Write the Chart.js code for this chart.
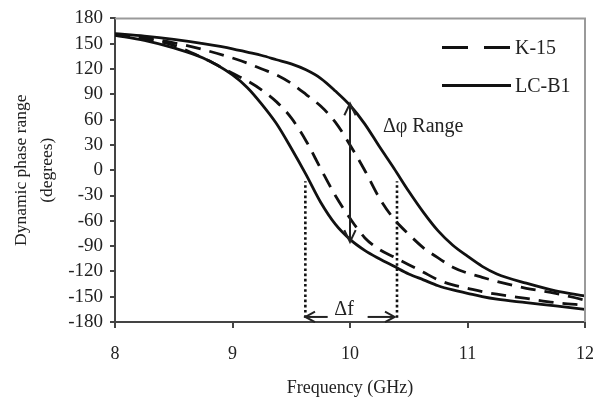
<!DOCTYPE html>
<html><head><meta charset="utf-8">
<script src="https://cdn.jsdelivr.net/npm/chart.js@4.4.1/dist/chart.umd.min.js"></script>
<style>html,body{margin:0;padding:0;background:#fff}</style>
</head><body>
<canvas id="c" width="609" height="401" style="display:block;width:609px;height:401px"></canvas>
<script>
// ---- data ----
const freq      = [8, 8.25, 8.5, 8.75, 9, 9.125, 9.25, 9.375, 9.5, 9.625, 9.75, 9.875, 10, 10.125, 10.25, 10.375, 10.5, 10.625, 10.75, 10.875, 11, 11.125, 11.25, 11.5, 11.75, 12];
const lcb1High  = [162, 159, 155, 150, 144, 140, 136, 131, 126, 119, 109, 94, 77, 55, 28, 2, -25, -50, -72, -89, -102, -114, -123, -134, -143, -149];
const lcb1Low   = [160, 154, 145, 133, 113, 98, 78, 55, 26, -5, -38, -64, -82, -95, -105, -114, -123, -130, -137, -142, -146, -150, -153, -157, -161, -165];
const k15High   = [161, 157, 151, 143, 133, 127, 120, 113, 103, 90, 76, 57, 30, 0, -33, -58, -76, -92, -104, -115, -122, -127, -132, -140, -146, -154];
const k15Low    = [161, 156, 148, 133, 115, 106, 95, 81, 62, 35, 2, -30, -57, -80, -94, -103, -112, -121, -130, -136, -140, -144, -147, -152, -157, -160];
const xTicks    = [8, 9, 10, 11, 12];
const yTicks    = [-180, -150, -120, -90, -60, -30, 0, 30, 60, 90, 120, 150, 180];
const seriesNames = ['K-15', 'LC-B1'];
// annotations, in data units
const dphiArrowX   = [10];
const dphiArrowY   = [-85, 79];
const dfLinesX     = [9.62, 10.4];
const dfLinesY     = [-175, -13];
const dfArrowLeftX = [9.62, 9.81];
const dfArrowRightX= [10.15, 10.38];
const dfArrowY     = [-174];
const labelTexts   = ['\u0394\u03c6 Range', '\u0394f'];
const labelX       = [10.28, 9.95];
const labelY       = [51, -165];

const SERIF = "'Liberation Serif','Times New Roman',serif";
const INK = '#111';

function toXY(ys){ return freq.map((f,i)=>({x:f,y:ys[i]})); }

const dash = [15, 9];
const lineBase = {borderColor: INK, borderWidth: 2.8, pointRadius: 0, fill: false, cubicInterpolationMode: 'monotone'};

function arrowHead(ctx, x, y, ang, len, spread){
  ctx.beginPath();
  ctx.moveTo(x + len*Math.cos(ang+spread), y + len*Math.sin(ang+spread));
  ctx.lineTo(x, y);
  ctx.lineTo(x + len*Math.cos(ang-spread), y + len*Math.sin(ang-spread));
  ctx.stroke();
}

const annot = {
  id: 'annot',
  afterDatasetsDraw(chart){
    const ctx = chart.ctx, xs = chart.scales.x, ys = chart.scales.y, ca = chart.chartArea;
    ctx.save();
    // top / right frame
    ctx.strokeStyle = '#9a9a9a'; ctx.lineWidth = 2;
    ctx.beginPath(); ctx.moveTo(ca.left, ca.top); ctx.lineTo(ca.right, ca.top); ctx.lineTo(ca.right, ca.bottom); ctx.stroke();
    // dotted verticals
    ctx.strokeStyle = INK; ctx.lineWidth = 2.6; ctx.setLineDash([2.6, 2.6]);
    dfLinesX.forEach(v=>{
      const px = xs.getPixelForValue(v);
      ctx.beginPath(); ctx.moveTo(px, ys.getPixelForValue(dfLinesY[0])); ctx.lineTo(px, ys.getPixelForValue(dfLinesY[1])); ctx.stroke();
    });
    ctx.setLineDash([]);
    // double arrow
    ctx.strokeStyle = '#222'; ctx.lineWidth = 2;
    const ax = xs.getPixelForValue(dphiArrowX[0]);
    const ay1 = ys.getPixelForValue(dphiArrowY[0]), ay2 = ys.getPixelForValue(dphiArrowY[1]);
    ctx.beginPath(); ctx.moveTo(ax, ay1); ctx.lineTo(ax, ay2); ctx.stroke();
    arrowHead(ctx, ax, ay2, Math.PI/2, 13, 0.45);
    arrowHead(ctx, ax, ay1, -Math.PI/2, 13, 0.45);
    // delta f arrows
    const fy = ys.getPixelForValue(dfArrowY[0]);
    ctx.lineWidth = 2;
    let l1 = xs.getPixelForValue(dfArrowLeftX[0]), l2 = xs.getPixelForValue(dfArrowLeftX[1]);
    ctx.beginPath(); ctx.moveTo(l1, fy); ctx.lineTo(l2, fy); ctx.stroke();
    arrowHead(ctx, l1, fy, 0, 11, 0.5);
    let r1 = xs.getPixelForValue(dfArrowRightX[0]), r2 = xs.getPixelForValue(dfArrowRightX[1]);
    ctx.beginPath(); ctx.moveTo(r1, fy); ctx.lineTo(r2, fy); ctx.stroke();
    arrowHead(ctx, r2, fy, Math.PI, 11, 0.5);
    // labels
    ctx.fillStyle = '#222'; ctx.font = '20px ' + SERIF; ctx.textBaseline = 'middle';
    ctx.textAlign = 'left';
    ctx.fillText(labelTexts[0], xs.getPixelForValue(labelX[0]), ys.getPixelForValue(labelY[0]));
    ctx.textAlign = 'center';
    ctx.fillText(labelTexts[1], xs.getPixelForValue(labelX[1]), ys.getPixelForValue(labelY[1]));
    // legend
    const lx0 = ca.right - 143, lx1 = ca.right - 74;
    const rows = [ca.top + 29, ca.top + 67];
    ctx.strokeStyle = INK; ctx.lineWidth = 3;
    ctx.setLineDash([26, 16]);
    ctx.beginPath(); ctx.moveTo(lx0, rows[0]); ctx.lineTo(lx1, rows[0]); ctx.stroke();
    ctx.setLineDash([]);
    ctx.beginPath(); ctx.moveTo(lx0, rows[1]); ctx.lineTo(lx1, rows[1]); ctx.stroke();
    ctx.textAlign = 'left'; ctx.fillStyle = '#222'; ctx.font = '20px ' + SERIF;
    ctx.fillText(seriesNames[0], lx1 + 4, rows[0] + 1);
    ctx.fillText(seriesNames[1], lx1 + 4, rows[1] + 1);
    ctx.restore();
  }
};

new Chart(document.getElementById('c'), {
  type: 'line',
  data: {
    datasets: [
      Object.assign({label: seriesNames[1] + ' a', data: toXY(lcb1High)}, lineBase),
      Object.assign({label: seriesNames[1] + ' b', data: toXY(lcb1Low)}, lineBase),
      Object.assign({label: seriesNames[0] + ' a', data: toXY(k15High), borderDash: dash}, lineBase),
      Object.assign({label: seriesNames[0] + ' b', data: toXY(k15Low), borderDash: dash}, lineBase)
    ]
  },
  options: {
    responsive: false, animation: false, devicePixelRatio: 1,
    layout: {padding: {left: 0, right: 18, top: 18, bottom: 0}},
    plugins: {legend: {display: false}, tooltip: {enabled: false}},
    scales: {
      x: {
        type: 'linear', min: 8, max: 12,
        afterBuildTicks: s => { s.ticks = xTicks.map(v => ({value: v})); },
        afterFit: s => { s.height = 79; },
        grid: {drawOnChartArea: false, drawTicks: true, tickLength: 6, color: '#444', lineWidth: 2},
        border: {color: '#444', width: 2},
        ticks: {color: '#222', font: {family: SERIF, size: 18}, padding: 15, maxRotation: 0, autoSkip: false},
        title: {display: true, text: 'Frequency (GHz)', color: '#222', font: {family: SERIF, size: 18, lineHeight: 1.2}, padding: {top: 0, bottom: 2}}
      },
      y: {
        type: 'linear', min: -180, max: 180,
        afterBuildTicks: s => { s.ticks = yTicks.map(v => ({value: v})); },
        afterFit: s => { s.width = 115; },
        grid: {drawOnChartArea: false, drawTicks: true, tickLength: 5, color: '#444', lineWidth: 2},
        border: {color: '#444', width: 2},
        ticks: {color: '#222', font: {family: SERIF, size: 19}, padding: 7, autoSkip: false},
        title: {display: true, text: ['Dynamic phase range', '(degrees)'], color: '#222', font: {family: SERIF, size: 17.5, lineHeight: 1.45}, padding: {top: 9, bottom: 0}}
      }
    }
  },
  plugins: [annot]
});
</script>
</body></html>
